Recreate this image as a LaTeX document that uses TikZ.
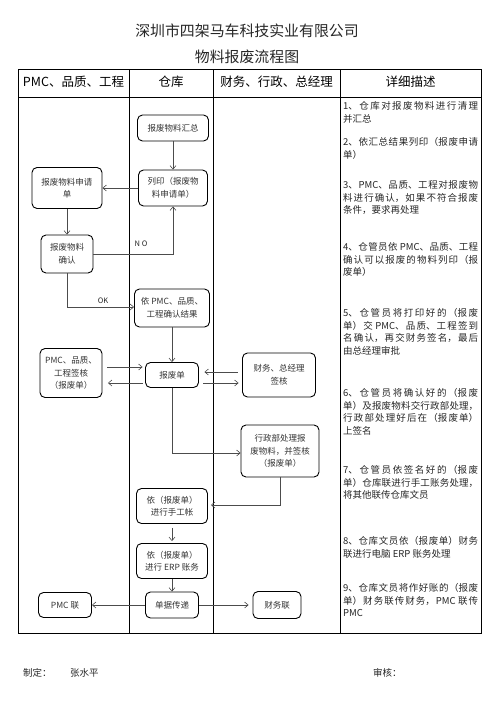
\documentclass[tikz,border=0pt]{standalone}
\usepackage{fontspec}
\setmainfont{Noto Sans CJK SC}
\usetikzlibrary{arrows.meta}
\XeTeXlinebreaklocale "zh"
\XeTeXlinebreakskip=0pt plus 3pt minus 0.3pt
\begin{document}
\begin{tikzpicture}[x=1pt,y=-1pt,
  box/.style={draw=black,line width=0.9pt,rounded corners=5pt,inner sep=0pt,align=center,
    font=\fontsize{8.5}{12.5}\selectfont,text=black!80},
  conn/.style={draw=black!70,line width=0.6pt,-{Straight Barb[length=3.5pt,width=6pt]}},
  lbl/.style={font=\fontsize{7.5}{9}\selectfont,text=black!85,inner sep=0pt},
  head/.style={font=\fontsize{12.5}{14}\selectfont,inner sep=0pt},
  ttl/.style={font=\fontsize{14.9}{17}\selectfont,inner sep=0pt,text=black!85},
  desc/.style={anchor=north west,inner sep=0pt,text width=135pt,align=justify,
    font=\fontsize{9.5}{12.8}\selectfont,text=black!85},
  foot/.style={anchor=west,font=\fontsize{9.5}{11}\selectfont,inner sep=0pt,text=black!85}]
\useasboundingbox (0,0) rectangle (496,702);
% titles
\node[ttl] (t1) at (247,31) {深圳市四架马车科技实业有限公司};
\node[ttl] (t2) at (247,57) {物料报废流程图};
% table
\draw[line width=0.9pt] (18,69) rectangle (481,633);
\draw[line width=0.9pt] (18,97) -- (481,97);
\draw[line width=0.9pt] (129,69) -- (129,633);
\draw[line width=0.9pt] (213,69) -- (213,633);
\draw[line width=0.9pt] (340,69) -- (340,633);
\node[head] (h1) at (73.5,82) {PMC、品质、工程};
\node[head] (h2) at (171,82) {仓库};
\node[head] (h3) at (276.5,82) {财务、行政、总经理};
\node[head] (h4) at (410.5,82) {详细描述};
% flow nodes
\node[box,minimum width=71pt,minimum height=26pt] (hz) at (173,128) {报废物料汇总};
\node[box,minimum width=69pt,minimum height=36pt] (ly) at (173,188) {列印（报废物\\料申请单）};
\node[box,minimum width=70pt,minimum height=41pt] (sq) at (67,188) {报废物料申请\\单};
\node[box,minimum width=52pt,minimum height=38pt] (qr) at (67,254) {报废物料\\确认};
\node[box,minimum width=75pt,minimum height=38pt] (yj) at (172,308) {依 PMC、品质、\\工程确认结果};
\node[box,minimum width=53pt,minimum height=25pt] (bfd) at (172,375) {报废单};
\node[box,minimum width=62pt,minimum height=49pt] (pq) at (71,373) {PMC、品质、\\工程签核\\（报废单）};
\node[box,minimum width=73pt,minimum height=44pt] (cw) at (279,375) {财务、总经理\\签核};
\node[box,minimum width=78pt,minimum height=52pt] (xz) at (280,451) {行政部处理报\\废物料，并签核\\（报废单）};
\node[box,minimum width=71pt,minimum height=35pt] (sg) at (172,506) {依（报废单）\\进行手工帐};
\node[box,minimum width=71pt,minimum height=35pt] (erp) at (172,561) {依（报废单）\\进行 ERP 账务};
\node[box,minimum width=53pt,minimum height=26pt] (dj) at (172,605) {单据传递};
\node[box,minimum width=53pt,minimum height=25pt] (pl) at (65,605) {PMC 联};
\node[box,minimum width=48pt,minimum height=27pt] (cl) at (277,605) {财务联};
% labels
\node[lbl] (no) at (141,244) {N O};
\node[lbl] (ok) at (103,301) {OK};
% connectors
\draw[conn] (hz) -- (ly);
\draw[conn] (ly.west) -- (sq.east);
\draw[conn] (sq) -- (qr);
\draw[conn] (qr.east) -| (ly.south);
\draw[conn] (qr.south) |- ([yshift=1pt]yj.west);
\draw[conn] (yj) -- (bfd);
\draw[conn,shorten <=5pt,shorten >=2.5pt] ([yshift=8pt]pq.east |- bfd.west) -- ([yshift=8pt]bfd.west);
\draw[conn,shorten <=2.5pt,shorten >=5.5pt] ([yshift=-8pt]bfd.west) -- ([yshift=-8pt]pq.east |- bfd.west);
\draw[conn,shorten <=4.5pt,shorten >=5.5pt] ([yshift=3pt]cw.west) -- ([yshift=3pt]bfd.east);
\draw[conn,shorten <=4.5pt,shorten >=3.5pt] ([yshift=-8pt]bfd.east) -- ([yshift=-8pt]cw.west);
\draw[conn] (bfd.south) |- ([yshift=-2pt]xz.west);
\draw[conn,shorten >=3pt] (xz.south) |- ([yshift=1pt]sg.east);
\draw[conn,shorten <=4pt,shorten >=2pt] (sg) -- (erp);
\draw[conn] (erp) -- (dj);
\draw[conn] (dj.west) -- (pl.east);
\draw[conn,shorten >=4pt] (dj.east) -- (cl.west);
% descriptions
\node[desc] (d1) at (343,101) {1、仓库对报废物料进行清理\linebreak 并汇总};
\node[desc] (d2) at (343,137) {2、依汇总结果列印（报废申请\linebreak 单）};
\node[desc] (d3) at (343,180) {3、PMC、品质、工程对报废物\linebreak 料进行确认，如果不符合报废\linebreak 条件，要求再处理};
\node[desc] (d4) at (343,242) {4、仓管员依 PMC、品质、工程\linebreak 确认可以报废的物料列印（报\linebreak 废单）};
\node[desc] (d5) at (343,308) {5、仓管员将打印好的（报废\linebreak 单）交 PMC、品质、工程签到\linebreak 名确认，再交财务签名，最后\linebreak 由总经理审批};
\node[desc] (d6) at (343,388) {6、仓管员将确认好的（报废\linebreak 单）及报废物料交行政部处理，\linebreak 行政部处理好后在（报废单）\linebreak 上签名};
\node[desc] (d7) at (343,465) {7、仓管员依签名好的（报废\linebreak 单）仓库联进行手工账务处理，\linebreak 将其他联传仓库文员};
\node[desc] (d8) at (343,536) {8、仓库文员依（报废单）财务\linebreak 联进行电脑 ERP 账务处理};
\node[desc] (d9) at (343,583) {9、仓库文员将作好账的（报废\linebreak 单）财务联传财务，PMC 联传\linebreak PMC};
% footer
\node[foot] (f1) at (23,673) {制定：};
\node[foot] (f2) at (70,673) {张水平};
\node[foot] (f3) at (373,673) {审核：};
\end{tikzpicture}
\end{document}
